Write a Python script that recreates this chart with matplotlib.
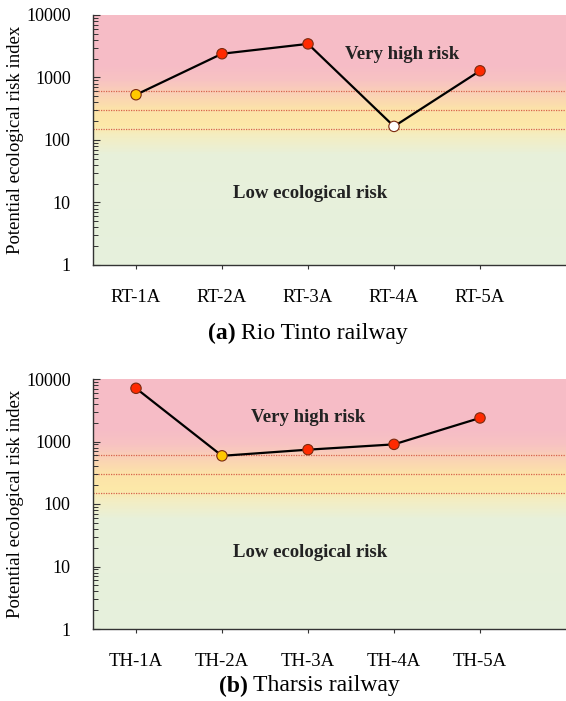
import numpy as np
import matplotlib
matplotlib.use("Agg")
import matplotlib.pyplot as plt
from matplotlib.colors import LinearSegmentedColormap
from matplotlib.ticker import LogLocator, NullFormatter, FixedLocator

# ===== DATA =====
rt_sites = ["RT-1A", "RT-2A", "RT-3A", "RT-4A", "RT-5A"]
rt_ri = [530, 2400, 3450, 165, 1280]
rt_col = ["#FFC800", "#FF2A00", "#FF2A00", "#FFFFFF", "#FF2A00"]

th_sites = ["TH-1A", "TH-2A", "TH-3A", "TH-4A", "TH-5A"]
th_ri = [7100, 590, 740, 900, 2380]
th_col = ["#FF2A00", "#FFC800", "#FF2A00", "#FF2A00", "#FF2A00"]

thresholds = [150, 300, 600]
captions = [("(a)", "Rio Tinto railway"), ("(b)", "Tharsis railway")]

# ===== STYLE =====
plt.rcParams["font.family"] = ["Liberation Serif", "DejaVu Serif"]
W, H = 566, 701
fig = plt.figure(figsize=(W/100, H/100), dpi=100)

# background gradient in log10 space
bg = LinearSegmentedColormap.from_list("ri", [
    (0.00, "#E6F0DC"), (0.44, "#E7F0DA"), (0.52, "#F4EDC0"),
    (0.56, "#FCE8A8"), (0.62, "#FCE3A8"), (0.68, "#FAD2B4"),
    (0.74, "#F7C2C2"), (0.80, "#F6BCC6"), (1.00, "#F6BCC6")])


def panel(top_px, sites, vals, cols, vh_xy, low_xy, cap, cap_y, cap_x):
    bottom_px = top_px + 250
    ax = fig.add_axes([93/W, 1 - bottom_px/H, 1 - 93/W, 250/H])
    ax.set_yscale("log")
    ax.set_xlim(-0.5, 5.0); ax.set_ylim(1, 10000)
    ye = np.logspace(0, 4, 401)
    yc = np.log10(np.sqrt(ye[:-1]*ye[1:])) / 4
    ax.pcolormesh([-0.5, 5.0], ye, yc[:, None], cmap=bg, vmin=0, vmax=1,
                  shading="flat", zorder=0)
    for t in thresholds:
        ax.axhline(t, color="#D8634C", lw=0.9, ls=(0, (1, 1)), zorder=1)
    x = np.arange(len(sites))
    ax.plot(x, vals, color="black", lw=1.6, zorder=2)
    ax.scatter(x, vals, s=56, c=cols, edgecolors="#7A2A10", linewidths=0.8,
               zorder=3)
    ax.set_xticks(x); ax.set_xticklabels(sites, fontsize=13.5)
    ax.yaxis.set_major_locator(FixedLocator([1, 10, 100, 1000, 10000]))
    ax.set_yticklabels(["1", "10", "100", "1000", "10000"], fontsize=13)
    ax.yaxis.set_minor_locator(LogLocator(base=10, subs=np.arange(2, 10)))
    ax.yaxis.set_minor_formatter(NullFormatter())
    ax.tick_params(axis="y", which="major", direction="in", length=5,
                   width=0.8, colors="#333333", labelcolor="black", pad=16)
    ax.tick_params(axis="y", which="minor", direction="in", length=3.5,
                   width=0.7, colors="#333333")
    ax.tick_params(axis="x", direction="out", length=3, width=0.8,
                   colors="#333333", labelcolor="black", pad=14)
    for s in ["top", "right"]:
        ax.spines[s].set_visible(False)
    for s in ["left", "bottom"]:
        ax.spines[s].set_color("#333333"); ax.spines[s].set_linewidth(1.0)
    ax.set_ylabel("Potential ecological risk index", fontsize=13.5)
    ax.yaxis.set_label_coords(-0.146, 0.5)
    ax.text(*vh_xy, "Very high risk", fontsize=13.5, fontweight="bold",
            ha="center", va="center", color="#222222", zorder=4)
    ax.text(*low_xy, "Low ecological risk", fontsize=13.5, fontweight="bold",
            ha="center", va="center", color="#222222", zorder=4)
    fig.text(cap_x/W, 1 - cap_y/H, cap[0], fontsize=17, fontweight="bold",
             ha="right", va="center")
    fig.text((cap_x + 5)/W, 1 - cap_y/H, cap[1], fontsize=17,
             ha="left", va="center")
    return ax


panel(15, rt_sites, rt_ri, rt_col, (3.1, 2300), (2.02, 14), captions[0], 333, 236)
panel(379, th_sites, th_ri, th_col, (2.0, 2450), (2.02, 16.5), captions[1], 686, 248)

fig.savefig("out.png", dpi=100)
